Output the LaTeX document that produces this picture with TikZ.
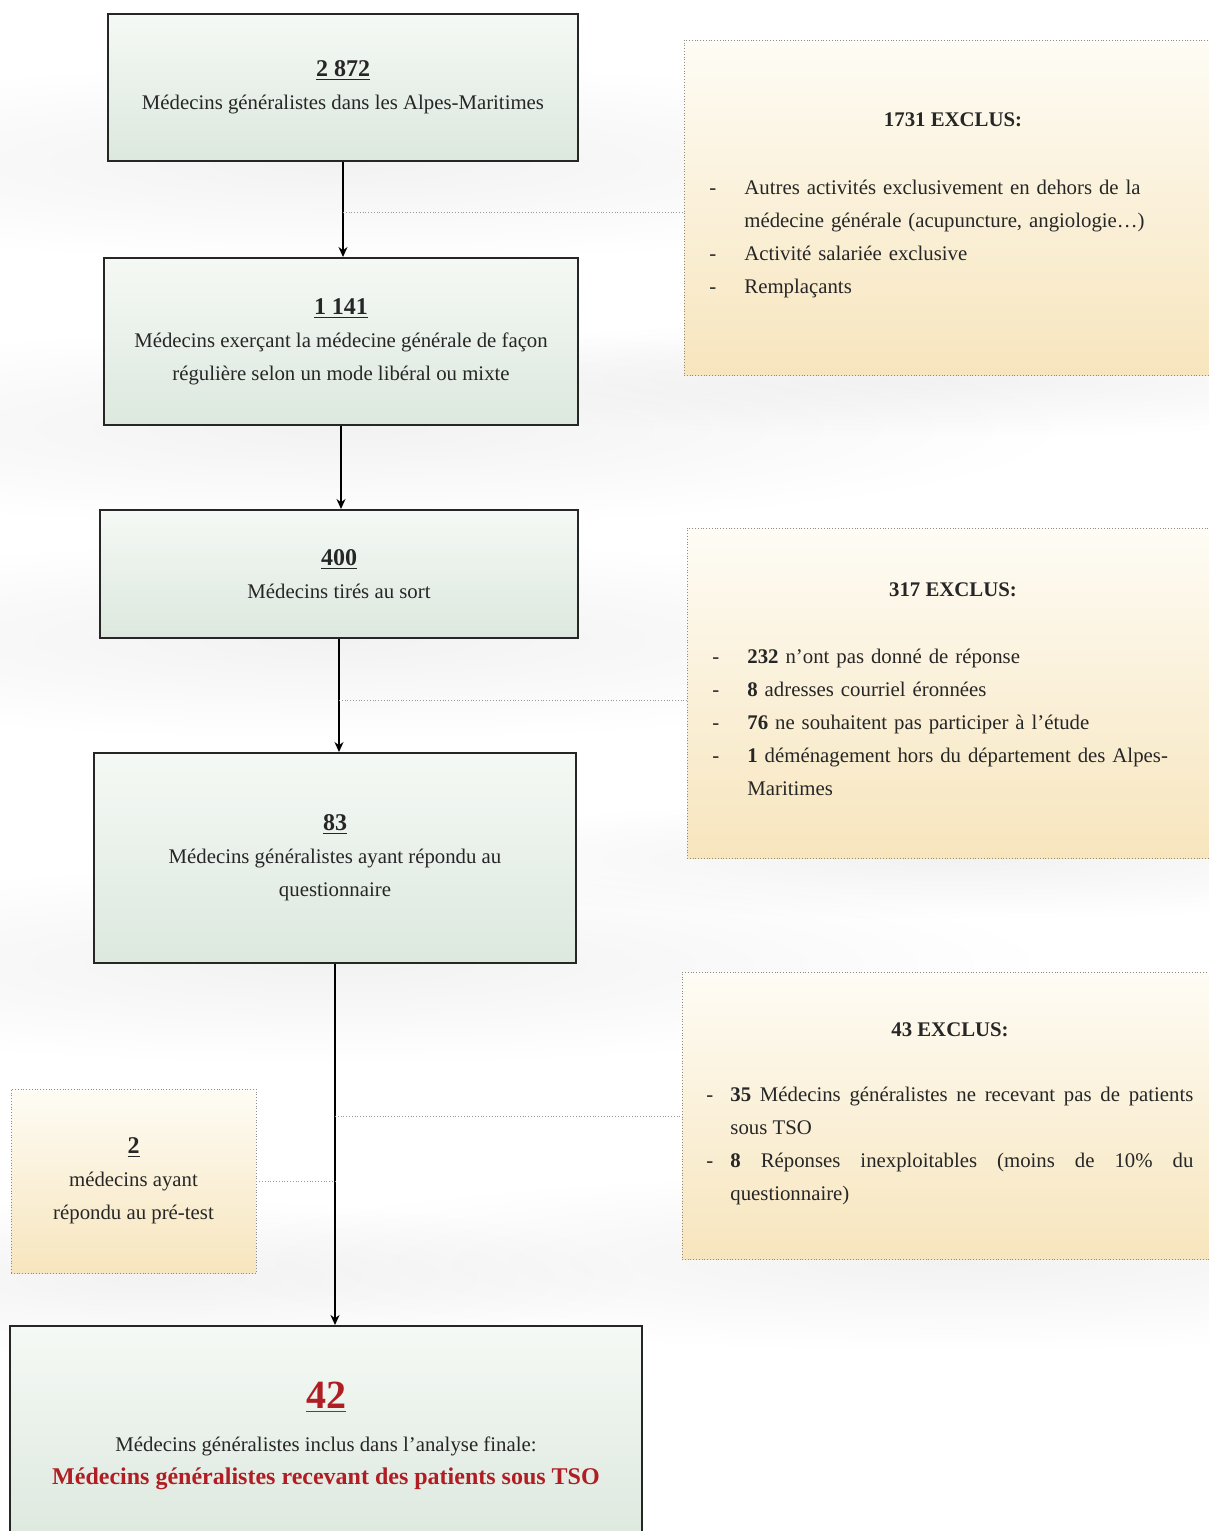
\documentclass[tikz,border=0pt]{standalone}
\usepackage{fontspec}
\setmainfont{Liberation Serif}
\usepackage{xcolor}
\usetikzlibrary{fadings,arrows.meta}
\definecolor{vertclair}{HTML}{F5F9F5}
\definecolor{vertfonce}{HTML}{DCE8DE}
\definecolor{cremeclair}{HTML}{FEFCF5}
\definecolor{cremefonce}{HTML}{F7E5BD}
\definecolor{rougetso}{HTML}{B01E24}
\tikzfading[name=ombrefade, inner color=transparent!0, outer color=transparent!100]
\newcommand{\nb}[1]{\underline{\textbf{\fontsize{12}{14}\selectfont #1}}}
\newcommand{\tiret}[2]{\par\noindent\hangindent=#1\hangafter=1\makebox[#1][l]{-}#2\par}

\begin{document}
\begin{tikzpicture}[x=0.5pt,y=-0.5pt,>={Stealth[length=5pt,width=4.5pt]},
    every node/.style={font=\fontsize{10.4}{16.5}\selectfont, text=black!85},
    etape/.style={draw=black!85, line width=1pt, top color=vertclair, bottom color=vertfonce, align=center, inner sep=0pt},
    exclu/.style={draw=black!45, densely dotted, line width=0.4pt, top color=cremeclair, bottom color=cremefonce, inner sep=0pt},
    liste/.style={align=left, inner sep=0pt, anchor=north west},
    fleche/.style={->, line width=0.7pt},
    pointille/.style={densely dotted, draw=black!40, line width=0.4pt},
    ombre/.style={black, opacity=0.05, path fading=ombrefade}]
    \clip (0,0) rectangle (1209,1531);
    % ombres
    \fill[ombre] (345,163) ellipse [x radius=700, y radius=100];
    \fill[ombre] (345,428) ellipse [x radius=730, y radius=100];
    \fill[ombre] (340,640) ellipse [x radius=720, y radius=100];
    \fill[ombre] (335,965) ellipse [x radius=720, y radius=100];
    \fill[ombre] (950,378) ellipse [x radius=600, y radius=60];
    \fill[ombre] (950,860) ellipse [x radius=600, y radius=60];
    \fill[ombre] (950,1262) ellipse [x radius=760, y radius=90];
    \fill[ombre] (150,1278) ellipse [x radius=500, y radius=80];
    % etapes
    \node[etape, minimum width=235pt, minimum height=73.5pt] (n2872) at (343,87.5)
        {\nb{2 872}\\ Médecins généralistes dans les Alpes-Maritimes};
    \node[etape, minimum width=237pt, minimum height=83.5pt] (n1141) at (341,341.5)
        {\nb{1 141}\\ Médecins exerçant la médecine générale de façon\\ régulière selon un mode libéral ou mixte};
    \node[etape, minimum width=239pt, minimum height=64pt] (n400) at (339,574)
        {\nb{400}\\ Médecins tirés au sort};
    \node[etape, minimum width=241pt, minimum height=105pt] (n83) at (335,858)
        {\nb{83}\\ Médecins généralistes ayant répondu au\\ questionnaire};
    \node[etape, minimum width=316pt, minimum height=110pt] (n42) at (326,1436)
        {{\color{rougetso}\underline{\textbf{\fontsize{20}{24}\selectfont 42}}}\\[5pt]
         Médecins généralistes inclus dans l’analyse finale:\\
         {\color{rougetso}\bfseries\fontsize{12}{14}\selectfont Médecins généralistes recevant des patients sous TSO}};
    % exclus
    \node[exclu, minimum width=270.5pt, minimum height=167.5pt] (excl1731) at (954.5,207.5) {};
    \node (t1731) at (953,120) {\textbf{1731 EXCLUS:}};
    \node[liste, text width=240pt] (l1731) at (709,161) {%
        \tiret{17.5pt}{Autres activités exclusivement en dehors de la\newline médecine générale (acupuncture, angiologie…)}
        \tiret{17.5pt}{Activité salariée exclusive}
        \tiret{17.5pt}{Remplaçants}};
    \node[exclu, minimum width=269pt, minimum height=165pt] (excl317) at (956,693) {};
    \node (t317) at (953,590) {\textbf{317 EXCLUS:}};
    \node[liste, text width=240pt] (l317) at (712,630) {%
        \tiret{17.5pt}{\textbf{232} n’ont pas donné de réponse}
        \tiret{17.5pt}{\textbf{8} adresses courriel éronnées}
        \tiret{17.5pt}{\textbf{76} ne souhaitent pas participer à l’étude}
        \tiret{17.5pt}{\textbf{1} déménagement hors du département des Alpes-\newline Maritimes}};
    \node[exclu, minimum width=271.5pt, minimum height=143.5pt] (excl43) at (953.5,1115.5) {};
    \node (t43) at (950,1030) {\textbf{43 EXCLUS:}};
    \node[liste, align=justify, text width=243.5pt] (l43) at (706,1068) {%
        \tiret{12pt}{\textbf{35} Médecins généralistes ne recevant pas de patients\linebreak sous TSO}
        \tiret{12pt}{\textbf{8} Réponses inexploitables (moins de 10\% du\linebreak questionnaire)}};
    \node[exclu, minimum width=122.5pt, minimum height=92pt, align=center] (pretest) at (133.5,1181)
        {\nb{2}\\ médecins ayant\\ répondu au pré-test};
    % fleches
    \draw[fleche] (n2872.south) -- (n2872.south |- n1141.north);
    \draw[fleche] (n1141.south) -- (n1141.south |- n400.north);
    \draw[fleche] (n400.south) -- (n400.south |- n83.north);
    \draw[fleche, line width=1.1pt] (n83.south) -- (n83.south |- n42.north);
    % liens pointilles
    \coordinate (j1) at (343,212);
    \coordinate (j2) at (339,700);
    \coordinate (j3) at (335,1116);
    \coordinate (j4) at (pretest.east -| j3);
    \draw[pointille] (j1) -- (j1 -| excl1731.west);
    \draw[pointille] (j2) -- (j2 -| excl317.west);
    \draw[pointille] (j3) -- (j3 -| excl43.west);
    \draw[pointille] (pretest.east) -- (j4);
\end{tikzpicture}
\end{document}
